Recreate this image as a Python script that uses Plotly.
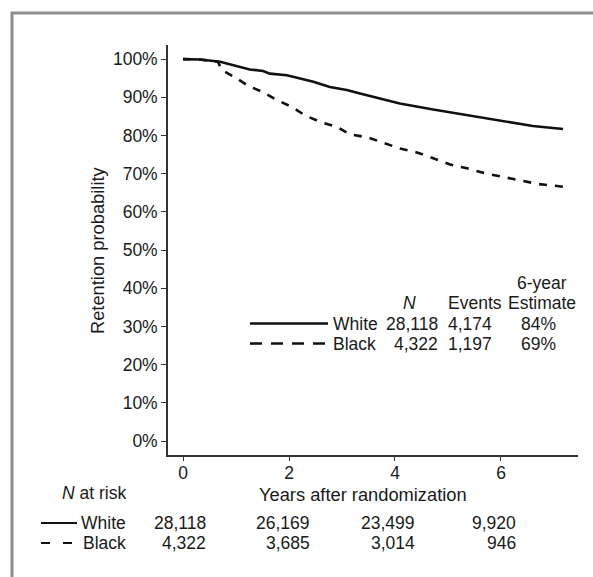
import plotly.graph_objects as go

# ---- data ----
white_t = [0, 0.32, 0.70, 1.01, 1.26, 1.51, 1.64, 1.96, 2.21, 2.46, 2.77, 3.09, 3.34,
           4.09, 4.72, 5.36, 5.98, 6.6, 7.17]
white_v = [100.0, 99.9, 99.3, 98.2, 97.3, 96.9, 96.2, 95.8, 94.9, 94.1, 92.7, 91.9, 91.0,
           88.4, 86.8, 85.3, 84.0, 82.5, 81.7]
black_t = [0, 0.32, 0.66, 0.70, 0.75, 1.02, 1.23, 1.5, 1.77, 2.05, 2.3, 2.58, 2.9, 3.15,
           3.49, 3.81, 4.09, 4.43, 4.72, 5.04, 5.36, 5.7, 6.02, 6.36, 6.7, 7.17]
black_v = [100.0, 99.9, 99.3, 98.0, 97.0, 94.9, 93.0, 91.4, 89.3, 87.5, 85.3, 83.6, 82.3, 80.3,
           79.5, 77.9, 76.6, 75.5, 74.0, 72.4, 71.4, 70.1, 69.2, 68.3, 67.3, 66.6]

groups = ["White", "Black"]
group_n = ["28,118", "4,322"]
group_events = ["4,174", "1,197"]
group_est = ["84%", "69%"]

risk_times = [0, 2, 4, 6]
risk_white = ["28,118", "26,169", "23,499", "9,920"]
risk_black = ["4,322", "3,685", "3,014", "946"]

y_ticks = list(range(0, 101, 10))
y_ticktext = [f"{v}%" for v in y_ticks]
x_ticks = [0, 2, 4, 6]

# ---- layout geometry (pixels) ----
W, H = 593, 577
L, R, T, B = 168, 15, 45, 122
PW, PH = W - L - R, H - T - B
FONT = "Liberation Sans, Arial, Helvetica, sans-serif"
FS_T = 18.3   # axis titles
FS = 17.5     # everything else
TXT = "#1a1a1a"
RISK_SHIFT = [25, 22.5, 22, 17]


def px(x):
    return (x - L) / PW


def py(y):
    return (H - B - y) / PH


fig = go.Figure()
fig.add_trace(go.Scatter(x=white_t, y=white_v, mode="lines",
                         line=dict(color="#111", width=2.6), showlegend=False))
fig.add_trace(go.Scatter(x=black_t, y=black_v, mode="lines",
                         line=dict(color="#111", width=2.6, dash="8px,8px"), showlegend=False))

ann = []


def text(x, y, s, anchor="center", xref="paper", xshift=0, angle=0, size=FS):
    ann.append(dict(x=x if xref != "paper" else px(x), y=py(y), xref=xref, yref="paper",
                    text=s, showarrow=False, xanchor=anchor, yanchor="middle",
                    xshift=xshift, textangle=angle,
                    font=dict(family=FONT, size=size, color=TXT)))


# y-axis title
text(97, 250, "Retention probability", angle=-90, size=FS_T)

# in-plot legend
text(542, 283, "6-year")
text(409, 303, "<i>N</i>")
text(446, 303, "Events", anchor="left")
text(542, 303, "Estimate")
rows_y = [323.5, 343.5]
for i, g in enumerate(groups):
    text(331, rows_y[i], g, anchor="left")
    text(440, rows_y[i], group_n[i], anchor="right")
    text(446, rows_y[i], group_events[i], anchor="left")
    text(538, rows_y[i], group_est[i])

# risk table
text(128, 493, "<i>N</i> at risk", anchor="right")
text(363, 494, "Years after randomization", size=FS_T)
risk_y = [523, 543]
for i, g in enumerate(groups):
    text(128, risk_y[i], g, anchor="right")
    vals = risk_white if i == 0 else risk_black
    for j, (t, v) in enumerate(zip(risk_times, vals)):
        text(t, risk_y[i], v, anchor="right", xref="x", xshift=RISK_SHIFT[j])

shapes = [
    # outer gray frame (cropped on right and bottom)
    dict(type="rect", xref="paper", yref="paper", x0=px(12), x1=px(620), y0=py(13), y1=py(620),
         line=dict(color="#8c8c8c", width=3)),
    # legend lines
    dict(type="line", xref="paper", yref="paper", x0=px(250), x1=px(328), y0=py(323.5), y1=py(323.5),
         line=dict(color="#111", width=2.6)),
    dict(type="line", xref="paper", yref="paper", x0=px(250), x1=px(328), y0=py(343.5), y1=py(343.5),
         line=dict(color="#111", width=2.6, dash="12px,9px")),
    # risk table lines
    dict(type="line", xref="paper", yref="paper", x0=px(41), x1=px(77), y0=py(523), y1=py(523),
         line=dict(color="#111", width=2)),
    dict(type="line", xref="paper", yref="paper", x0=px(41), x1=px(73), y0=py(543), y1=py(543),
         line=dict(color="#111", width=2, dash="9px,13px")),
]

fig.update_layout(
    width=W, height=H,
    margin=dict(l=L, r=R, t=T, b=B, pad=0),
    paper_bgcolor="white", plot_bgcolor="white",
    font=dict(family=FONT, size=FS, color=TXT),
    annotations=ann, shapes=shapes,
    xaxis=dict(range=[-0.283, 7.453], tickvals=x_ticks, ticks="outside", ticklen=4,
               ticklabelstandoff=-3,
               tickcolor="#333", showline=True, linecolor="#333", linewidth=1.6,
               showgrid=False, zeroline=False, tickfont=dict(size=FS, color=TXT)),
    yaxis=dict(range=[-3.66, 103.7], tickvals=y_ticks, ticktext=y_ticktext, ticks="outside",
               ticklen=5, tickcolor="#333", showline=True, linecolor="#333", linewidth=1.6,
               showgrid=False, zeroline=False, tickfont=dict(size=FS, color=TXT)),
)

fig.write_html("out.html", config={"displayModeBar": False},
               post_script="document.body.style.margin='0';")
